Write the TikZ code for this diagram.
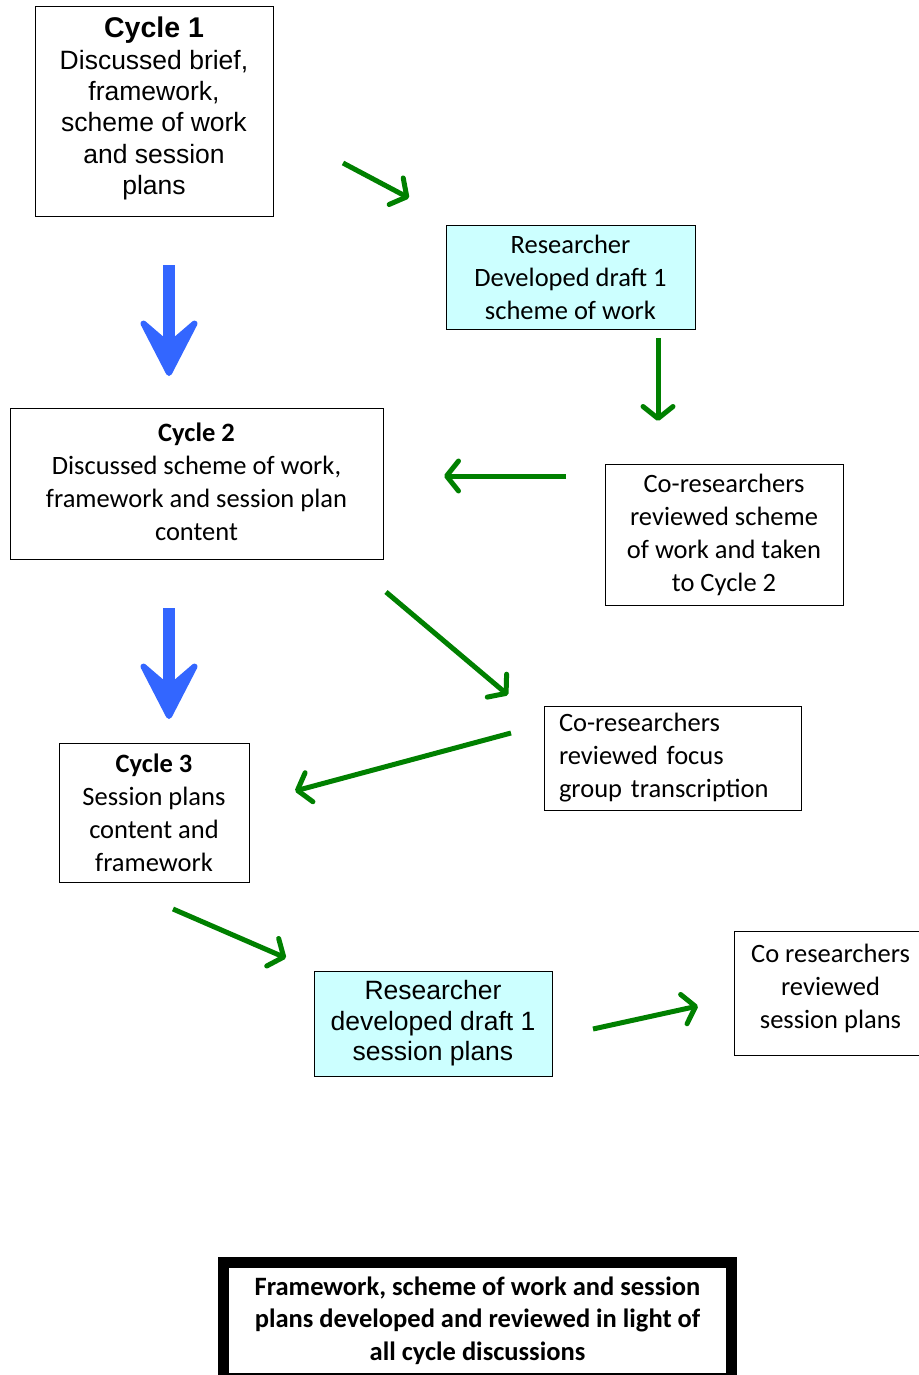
\documentclass[tikz,border=0pt]{standalone}
\usepackage{fontspec}
\setmainfont{Carlito}
\newfontfamily\arialfont{Liberation Sans}
\usepackage{tikz}
\usepackage{xcolor}
\usetikzlibrary{arrows.meta,positioning,calc}
\definecolor{draftCyan}{RGB}{204,255,255}
\definecolor{stepGreen}{RGB}{0,128,0}
\definecolor{cycleBlue}{RGB}{51,102,255}

\begin{document}
\begin{tikzpicture}[
            x=1pt, y=-1pt,
            block/.style={rectangle, draw, line width=1pt, align=center, inner sep=0pt, font=\fontsize{26.5}{33}\selectfont},
            draft/.style={block, fill=draftCyan},
            cycle arrow/.style={-{Stealth[length=68pt, width=70pt, inset=30pt, line width=6pt, round]}, line width=12pt, cycleBlue},
            arrow/.style={-{Straight Barb[length=12pt, width=30pt, round]}, line width=5pt, stepGreen}
        ]
            \useasboundingbox (0,0) rectangle (918,1375);
            \node[block, minimum width=238pt, minimum height=209pt, font=\arialfont\fontsize{26.5}{31.3}\selectfont] (cyc1) at (154,111.5)
                {{\bfseries\fontsize{28.5}{31}\selectfont Cycle 1}\\Discussed brief,\\framework,\\scheme of work\\and session\\plans\vspace*{6pt}};
            \node[draft, minimum width=249pt, minimum height=104pt] (draft1) at (570.5,277)
                {Researcher\\Developed draft 1\\scheme of work};
            \node[block, minimum width=373pt, minimum height=151pt] (cyc2) at (196.5,483.5)
                {\textbf{Cycle 2}\\Discussed scheme of work,\\framework and session plan\\content\vspace*{4pt}};
            \node[block, minimum width=238pt, minimum height=141pt] (coscheme) at (724,534.5)
                {Co-researchers\\reviewed scheme\\of work and taken\\to Cycle 2};
            \node[block, text width=227pt, inner xsep=15pt, minimum height=104pt, align=left] (cofocus) at (672.5,758)
                {Co-researchers\\reviewed focus\\group transcription};
            \node[block, minimum width=190pt, minimum height=139pt] (cyc3) at (154,812.5)
                {\textbf{Cycle 3}\\Session plans\\content and\\framework};
            \node[draft, minimum width=238pt, minimum height=105pt, font=\arialfont\fontsize{26.5}{30.5}\selectfont] (draft2) at (433,1023.5)
                {Researcher\\developed draft 1\\session plans};
            \node[block, minimum width=200pt, minimum height=124pt, anchor=west] (cosession) at (734,993)
                {\hspace*{-8pt}\begin{tabular}{@{}c@{}}Co researchers\\reviewed\\session plans\vspace*{8pt}\end{tabular}};
            \node[block, line width=11pt, minimum width=508pt, minimum height=116pt, font=\bfseries\fontsize{26.5}{32.5}\selectfont] (final) at (477.5,1320.5)
                {Framework, scheme of work and session\\plans developed and reviewed in light of\\all cycle discussions};

            % arrow end points
            \coordinate (b1s) at (169,265);
            \coordinate (b1e) at (169,376);
            \coordinate (b2s) at (169,608);
            \coordinate (b2e) at (169,719);
            \coordinate (g1s) at (343,163);
            \coordinate (g1e) at (409,198);
            \coordinate (g2s) at (658,338);
            \coordinate (g2e) at (658,421);
            \coordinate (g3s) at (566,476);
            \coordinate (g3e) at (444,476);
            \coordinate (g4s) at (386,592);
            \coordinate (g4e) at (508,695);
            \coordinate (g5s) at (511,733);
            \coordinate (g5e) at (295,791);
            \coordinate (g6s) at (173,909);
            \coordinate (g6e) at (286,958);
            \coordinate (g7s) at (593,1029);
            \coordinate (g7e) at (698,1006);

            \draw[cycle arrow] (b1s) -- (b1e);
            \draw[cycle arrow] (b2s) -- (b2e);
            \draw[arrow] (g1s) -- (g1e);
            \draw[arrow] (g2s) -- (g2e);
            \draw[arrow] (g3s) -- (g3e);
            \draw[arrow] (g4s) -- (g4e);
            \draw[arrow] (g5s) -- (g5e);
            \draw[arrow] (g6s) -- (g6e);
            \draw[arrow] (g7s) -- (g7e);
        \end{tikzpicture}
\end{document}
